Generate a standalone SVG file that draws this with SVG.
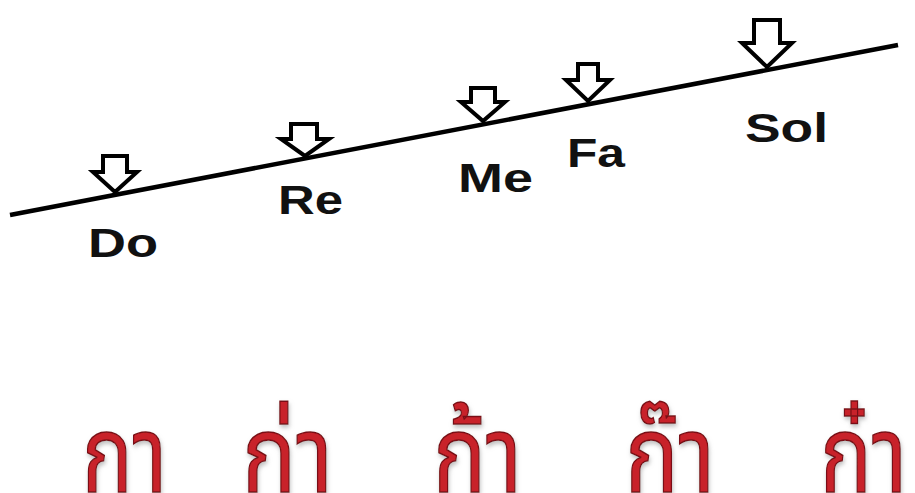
<svg xmlns="http://www.w3.org/2000/svg" width="915" height="493" viewBox="0 0 915 493">
<defs>
<style>
.lbl{font-family:"Liberation Sans",Arial,sans-serif;font-weight:bold;font-size:41px;fill:#111;}
.arr{fill:#fff;stroke:#000;stroke-width:4;stroke-linejoin:miter;}
.th{font-family:"Noto Sans Thai","Noto Sans","DejaVu Sans",sans-serif;font-size:108px;fill:#c8232b;stroke:#7a1015;stroke-width:1.5;}
</style>
<filter id="sh" x="-20%" y="-20%" width="140%" height="140%">
<feGaussianBlur in="SourceAlpha" stdDeviation="2"/>
<feOffset dx="1" dy="3" result="b"/>
<feFlood flood-color="#999" flood-opacity="0.6"/>
<feComposite in2="b" operator="in"/>
<feMerge><feMergeNode/><feMergeNode in="SourceGraphic"/></feMerge>
</filter>
</defs>
<rect width="915" height="493" fill="#fff"/>
<g id="connectors">
<line x1="10" y1="215" x2="898" y2="45" stroke="#000" stroke-width="4.5"/>
</g>
<g id="do">
<polygon class="arr" points="103,156 127,156 127,172 137,172 115,192 93,172 103,172"/>
<text class="lbl" x="88" y="257" textLength="70" lengthAdjust="spacingAndGlyphs">Do</text>
</g>
<g id="re">
<polygon class="arr" points="291,124 317,124 317,139 329,139 305,156 281,139 291,139"/>
<text class="lbl" x="278" y="214" textLength="65" lengthAdjust="spacingAndGlyphs">Re</text>
</g>
<g id="me">
<polygon class="arr" points="471,88 495,88 495,102 505,102 483,121 461,102 471,102"/>
<text class="lbl" x="458" y="192" textLength="75" lengthAdjust="spacingAndGlyphs">Me</text>
</g>
<g id="fa">
<polygon class="arr" points="578,64 598,64 598,80 610,80 588,101 566,80 578,80"/>
<text class="lbl" x="567" y="167" textLength="58" lengthAdjust="spacingAndGlyphs">Fa</text>
</g>
<g id="sol">
<polygon class="arr" points="754,20 780,20 780,43 792,43 767,67 742,43 754,43"/>
<text class="lbl" x="745" y="142" textLength="83" lengthAdjust="spacingAndGlyphs">Sol</text>
</g>
<g id="thai" filter="url(#sh)">
<text class="th" x="82" y="492" textLength="85" lengthAdjust="spacingAndGlyphs">กา</text>
<text class="th" x="242" y="492" textLength="91" lengthAdjust="spacingAndGlyphs">ก่า</text>
<text class="th" x="433" y="492" textLength="89" lengthAdjust="spacingAndGlyphs">ก้า</text>
<text class="th" x="625" y="492" textLength="90" lengthAdjust="spacingAndGlyphs">ก๊า</text>
<text class="th" x="820" y="492" textLength="87" lengthAdjust="spacingAndGlyphs">ก๋า</text>
</g>
</svg>
